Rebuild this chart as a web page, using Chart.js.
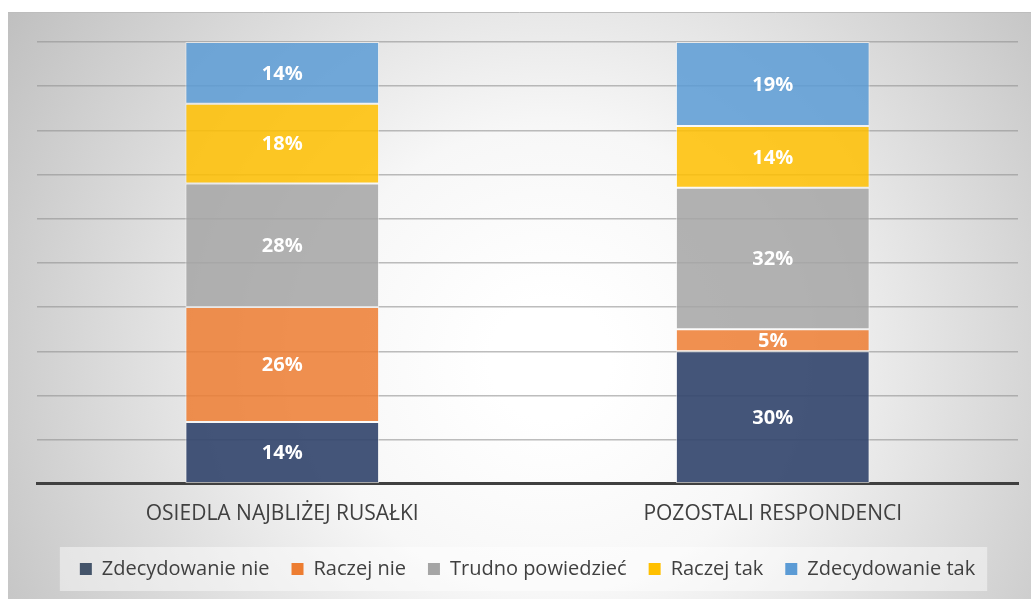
<!DOCTYPE html>
<html>
<head>
<meta charset="utf-8">
<script src="https://cdn.jsdelivr.net/npm/chart.js@4"></script>
<style>
  html, body { margin: 0; padding: 0; background: #fff; }
  #wrap { width: 1034px; height: 599px; }
</style>
</head>
<body>
<div id="wrap"><canvas id="myChart" width="1034" height="599"></canvas></div>
<script>
// dane z wykresu
const categories = ["OSIEDLA NAJBLIŻEJ RUSAŁKI", "POZOSTALI RESPONDENCI"];
const seriesNames = ["Zdecydowanie nie", "Raczej nie", "Trudno powiedzieć", "Raczej tak", "Zdecydowanie tak"];
const zdecydowanieNie = [14, 30];
const raczejNie = [26, 5];
const trudnoPowiedziec = [28, 32];
const raczejTak = [18, 14];
const zdecydowanieTak = [14, 19];

const seriesValues = [zdecydowanieNie, raczejNie, trudnoPowiedziec, raczejTak, zdecydowanieTak];
const solidColors = ['#44546A', '#ED7D31', '#A5A5A5', '#FFC000', '#5B9BD5'];
const fillColors = ['rgba(52,70,110,0.92)', 'rgba(237,125,49,0.85)', 'rgba(165,165,165,0.85)', 'rgba(255,192,0,0.85)', 'rgba(91,155,213,0.85)'];

const FONT = "'Open Sans', 'Noto Sans', sans-serif";

// tlo z gradientem + tlo legendy
const bgPlugin = {
  id: 'bgPlugin',
  beforeDraw(chart) {
    const ctx = chart.ctx;
    ctx.save();
    ctx.fillStyle = '#fff';
    ctx.fillRect(0, 0, chart.width, chart.height);
    const x0 = 8, y0 = 12, x1 = chart.width - 3, y1 = chart.height;
    const g = ctx.createRadialGradient(550, 360, 60, 550, 360, 640);
    g.addColorStop(0, '#ffffff');
    g.addColorStop(0.3, '#f7f7f7');
    g.addColorStop(1, '#c0c0c0');
    ctx.fillStyle = g;
    ctx.fillRect(x0, y0, x1 - x0, y1 - y0);
    ctx.strokeStyle = '#bdbdbd';
    ctx.lineWidth = 1;
    ctx.beginPath();
    ctx.moveTo(x0, y0 + 0.5);
    ctx.lineTo(x1, y0 + 0.5);
    ctx.stroke();
    // tlo legendy
    const boxes = chart.legend && chart.legend.legendHitBoxes;
    if (boxes && boxes.length) {
      let l = Infinity, r = -Infinity, t = Infinity, b = -Infinity;
      boxes.forEach(h => {
        l = Math.min(l, h.left); r = Math.max(r, h.left + h.width);
        t = Math.min(t, h.top); b = Math.max(b, h.top + h.height);
      });
      ctx.fillStyle = 'rgba(255,255,255,0.45)';
      ctx.fillRect(l - 20, t - 12, (r - l) + 32, (b - t) + 24);
    }
    ctx.restore();
  }
};

// etykiety procentowe
const labelPlugin = {
  id: 'labelPlugin',
  afterDatasetsDraw(chart) {
    const ctx = chart.ctx;
    ctx.save();
    ctx.font = "bold 20px " + FONT;
    ctx.fillStyle = '#ffffff';
    ctx.textAlign = 'center';
    ctx.textBaseline = 'middle';
    chart.data.datasets.forEach((ds, i) => {
      chart.getDatasetMeta(i).data.forEach((bar, j) => {
        const p = bar.getProps(['x', 'y', 'base'], true);
        ctx.fillText(ds.data[j] + '%', p.x, (p.y + p.base) / 2 + 1);
      });
    });
    ctx.restore();
  }
};

new Chart(document.getElementById('myChart'), {
  type: 'bar',
  data: {
    labels: categories,
    datasets: seriesNames.map((name, i) => ({
      label: name,
      data: seriesValues[i],
      backgroundColor: fillColors[i],
      borderColor: 'rgba(255,255,255,0.55)',
      borderWidth: 1,
      borderSkipped: false,
      categoryPercentage: 1,
      barPercentage: 0.395
    }))
  },
  options: {
    responsive: false,
    animation: false,
    layout: { padding: { left: 37, right: 16, top: 42, bottom: 10 } },
    scales: {
      x: {
        stacked: true,
        grid: { display: false },
        border: { color: '#404040', width: 3 },
        ticks: { color: '#404040', font: { family: FONT, size: 21 }, padding: 10 }
      },
      y: {
        stacked: true,
        min: 0,
        max: 100,
        ticks: { display: false, stepSize: 10 },
        grid: { color: 'rgba(145,145,145,0.6)', lineWidth: 1.5, drawTicks: false },
        border: { display: false }
      }
    },
    plugins: {
      tooltip: { enabled: false },
      legend: {
        position: 'bottom',
        labels: {
          color: '#404040',
          font: { family: FONT, size: 20 },
          boxWidth: 12,
          boxHeight: 12,
          padding: 22,
          generateLabels(chart) {
            return chart.data.datasets.map((ds, i) => ({
              text: ds.label,
              fillStyle: solidColors[i],
              strokeStyle: solidColors[i],
              lineWidth: 0,
              datasetIndex: i,
              hidden: false,
              fontColor: '#404040'
            }));
          }
        }
      }
    }
  },
  plugins: [bgPlugin, labelPlugin]
});
</script>
</body>
</html>
